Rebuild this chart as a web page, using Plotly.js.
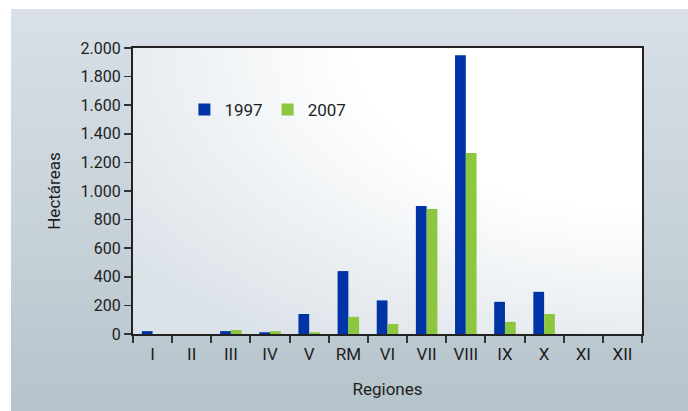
<!DOCTYPE html>
<html>
<head>
<meta charset="utf-8">
<script src="https://cdn.plot.ly/plotly-3.0.1.min.js"></script>
<style>
  html, body { margin: 0; padding: 0; background: #ffffff; }
  #wrap { position: relative; width: 688px; height: 411px; overflow: hidden; }
  #panel { position: absolute; left: 11px; top: 9px; width: 677px; height: 402px;
           background: linear-gradient(to bottom, #d9e0e7 0%, #c9d3da 50%, #b5c3ca 100%); }
  #chart { position: absolute; left: 0; top: 0; width: 688px; height: 411px; }
</style>
</head>
<body>
<div id="wrap">
  <div id="panel"></div>
  <div id="chart"></div>
</div>
<script>
const regions = ['I','II','III','IV','V','RM','VI','VII','VIII','IX','X','XI','XII'];
const values1997 = [20, 0, 20, 12, 140, 440, 235, 895, 1950, 225, 295, 0, 0];
const values2007 = [0, 0, 28, 20, 12, 120, 70, 875, 1265, 85, 140, 0, 0];
const yTicks = [0, 200, 400, 600, 800, 1000, 1200, 1400, 1600, 1800, 2000];

const FONT = '"Roboto", "Liberation Sans", sans-serif';
const TXT = '#1e1e1e';

const gradSvg = '<svg xmlns="http://www.w3.org/2000/svg" width="100" height="100" preserveAspectRatio="none">' +
  '<defs><radialGradient id="g" cx="1" cy="0" r="1.25" gradientUnits="objectBoundingBox">' +
  '<stop offset="0" stop-color="#ffffff"/><stop offset="0.45" stop-color="#ffffff"/>' +
  '<stop offset="1" stop-color="#dbe2e8"/></radialGradient></defs>' +
  '<rect width="100" height="100" fill="url(#g)"/></svg>';
const gradUri = 'data:image/svg+xml;base64,' + btoa(gradSvg);

const traces = [
  { type: 'bar', name: '1997', x: regions, y: values1997,
    marker: { color: '#0033a6' }, hoverinfo: 'x+y' },
  { type: 'bar', name: '2007', x: regions, y: values2007,
    marker: { color: '#8dc63f' }, hoverinfo: 'x+y' }
];

const layout = {
  width: 688, height: 411,
  margin: { l: 133, r: 46, t: 48, b: 77, pad: 0 },
  paper_bgcolor: 'rgba(0,0,0,0)',
  plot_bgcolor: 'rgba(0,0,0,0)',
  separators: ',.',
  barmode: 'group',
  bargap: 0.45,
  bargroupgap: 0,
  font: { family: FONT, size: 16, color: TXT },
  showlegend: true,
  legend: {
    orientation: 'h', x: 0.101, y: 0.783, xanchor: 'left', yanchor: 'middle',
    bgcolor: 'rgba(0,0,0,0)', font: { family: FONT, size: 17, color: TXT },
    itemwidth: 30, tracegroupgap: 0
  },
  images: [{
    source: gradUri, xref: 'paper', yref: 'paper', x: 0, y: 1,
    sizex: 1, sizey: 1, xanchor: 'left', yanchor: 'top',
    sizing: 'stretch', layer: 'below'
  }],
  xaxis: {
    type: 'category',
    tickson: 'boundaries',
    ticks: 'outside', ticklen: 7, tickwidth: 2, tickcolor: '#333333',
    showline: true, linecolor: '#222222', linewidth: 2, mirror: true,
    showgrid: false, zeroline: false,
    ticklabelstandoff: 4,
    tickfont: { family: FONT, size: 17, color: TXT },
    title: { text: 'Regiones', font: { family: FONT, size: 17, color: TXT }, standoff: 20 },
    fixedrange: true
  },
  yaxis: {
    range: [0, 2000],
    tickvals: yTicks,
    tickformat: ',d',
    ticks: 'outside', ticklen: 7, tickwidth: 1.5, tickcolor: '#333333',
    showline: true, linecolor: '#222222', linewidth: 2, mirror: true,
    showgrid: false, zeroline: false,
    tickfont: { family: FONT, size: 16, color: TXT },
    title: { text: 'Hectáreas', font: { family: FONT, size: 17, color: TXT }, standoff: 16 },
    fixedrange: true
  }
};

Plotly.newPlot('chart', traces, layout, { displayModeBar: false, staticPlot: true });
</script>
</body>
</html>
